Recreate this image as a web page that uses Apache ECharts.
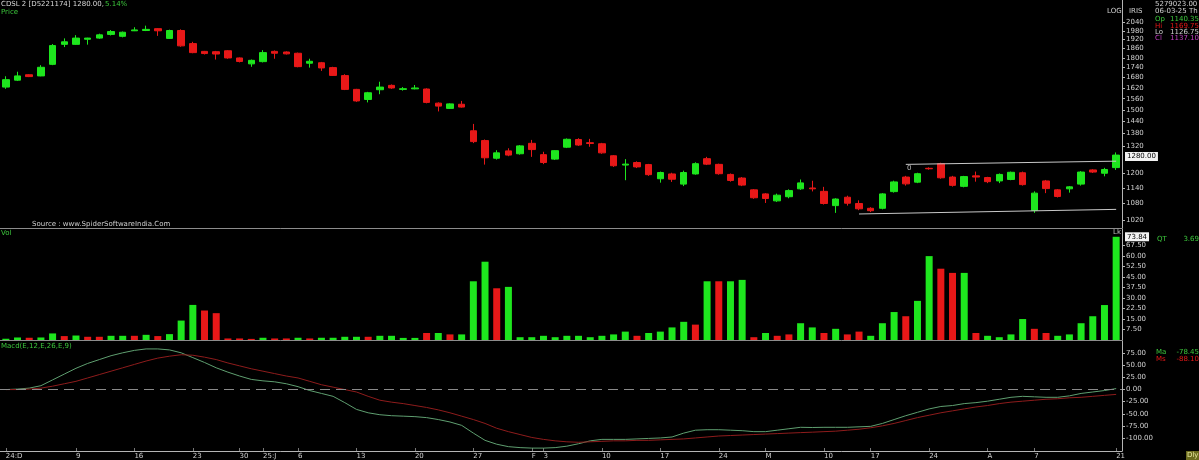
<!DOCTYPE html>
<html><head><meta charset="utf-8">
<script src="https://cdn.jsdelivr.net/npm/echarts@6/dist/echarts.min.js"></script>
<style>html,body{margin:0;padding:0;background:#000;}#c{width:1199px;height:460px;}</style>
</head><body><div id="c"></div>
<script>
// ---- data ----
const opens  = [1625,1665,1697,1690,1760,1888,1888,1922,1930,1955,1942,1980,1982,1995,1928,1982,1893,1842,1840,1846,1800,1763,1777,1842,1838,1830,1767,1770,1740,1692,1612,1556,1610,1635,
  1612,1615,1614,1536,1508,1530,1394,1347,1266,1299,1286,1334,1282,1262,1316,1352,1337,1332,1277,1236,1247,1238,1178,1198,1156,1198,1264,1239,1196,1181,1133,1117,1090,1106,
  1137,1140.35,1127,1072,1104,1080,1062,1062,1126,1185,1164,1222,1242,1185,1147,1190,1183,1169,1175,1203,1054,1169,1133,1137,1156,1215,1201,1225];
const highs  = [1688,1715,1700,1755,1890,1928,1950,1932,1960,1985,1975,2005,2016,1998,1988,1990,1905,1845,1845,1850,1803,1790,1850,1848,1842,1834,1795,1775,1745,1700,1615,1598,1656,1640,
  1625,1637,1618,1540,1535,1548,1428,1352,1302,1311,1326,1350,1295,1302,1357,1358,1355,1336,1280,1262,1252,1241,1208,1203,1212,1248,1272,1242,1200,1185,1136,1120,1118,1135,
  1175,1169.75,1145,1100,1110,1092,1066,1120,1170,1190,1203,1226,1246,1190,1190,1208,1186,1200,1208,1208,1127,1173,1136,1148,1210,1218,1224,1292];
const lows   = [1615,1660,1683,1688,1755,1870,1885,1886,1925,1948,1935,1978,1978,1945,1925,1872,1830,1822,1790,1795,1772,1745,1772,1795,1822,1742,1740,1720,1690,1608,1543,1540,1585,1615,
  1605,1612,1535,1492,1505,1512,1335,1238,1260,1275,1282,1272,1240,1258,1312,1322,1318,1286,1228,1172,1223,1190,1162,1165,1148,1195,1236,1195,1166,1148,1098,1082,1086,1100,
  1133,1126.75,1076,1045,1072,1055,1048,1058,1122,1150,1160,1216,1178,1146,1143,1166,1160,1160,1172,1150,1045,1120,1103,1122,1150,1202,1188,1215];
const closes = [1668,1690,1686,1742,1880,1905,1930,1930,1952,1975,1970,1986,1990,1980,1982,1878,1834,1828,1825,1800,1778,1785,1834,1830,1826,1746,1779,1738,1693,1612,1548,1593,1625,1620,
  1616,1620,1540,1520,1532,1515,1342,1268,1290,1280,1322,1305,1247,1300,1353,1326,1333,1290,1233,1240,1228,1195,1204,1176,1204,1242,1240,1199,1171,1152,1102,1099,1112,1130,
  1161,1137.10,1080,1097,1081,1060,1053,1117,1165,1157,1199,1220,1182,1151,1187,1185,1166,1196,1205,1154,1120,1138,1107,1145,1206,1206,1217,1280];
const volumes = [0.9,1.8,1.6,1.8,4.7,2.8,3.2,2.3,2.3,3.0,3.0,3.0,3.7,2.8,4.2,13.9,25.1,21.1,19.2,1.1,1.1,0.8,1.6,1.1,1.1,1.6,1.1,1.6,1.6,2.3,2.3,2.3,3.0,3.0,
  1.5,1.5,5,5,4,4,42,56,37,38,2,2,3,2,3,3,2,3,4,6,3,5,6,9,13,11,42,42,42,43,2,5,3,4,
  12,9,5,8,4,6,3,12,20,17,28,60,51,48,48,5,3,2,4,15,8,5,3,4,12,17,25,73.84];
const volUp = [1,1,0,1,1,0,1,0,0,1,1,0,1,0,1,1,1,0,0,0,0,0,1,0,0,1,0,1,1,1,1,0,1,1,
  1,1,0,1,0,1,1,1,0,1,1,1,1,1,1,1,1,1,1,1,0,1,1,1,1,0,1,0,1,1,0,1,0,0,
  1,1,0,1,0,0,1,1,1,0,1,1,0,0,1,0,1,1,1,1,0,0,1,1,1,1,1,1];
const macdLine = [0,1,3,8,20,32,44,54,62,70,76,81,84,84,82,76,66,56,45,36,28,21,18,16,12,6,-2,-8,-14,-27,-41,-48,-52,-54,
  -55,-56,-58,-62,-67,-74,-90,-105,-113,-118,-120,-121,-121,-120,-117,-112,-106,-103,-103,-103,-102,-101,-100,-98,-90,-84,-83,-83,-84,-85,-87,-87,-84,-81,
  -78,-78.45,-78,-78,-78,-77,-76,-70,-62,-54,-47,-40,-35,-33,-29,-27,-24,-20,-16,-14,-15,-16,-16,-13,-8,-5,-2,2];
const signalLine = [0,0,1,3,7,12,17,24,31,38,45,52,59,65,69,72,71,67,62,55,49,43,38,33,28,24,17,10,5,0,-5,-14,-22,-26,
  -29,-33,-37,-42,-48,-55,-62,-70,-80,-87,-93,-99,-103,-106,-108,-109,-108,-107,-106,-106,-105,-105,-104,-103,-102,-100,-98,-96,-95,-94,-93,-92,-91,-90,
  -89,-88.10,-87,-86,-84,-82,-79,-75,-70,-64,-58,-53,-48,-44,-40,-36,-33,-29,-26,-24,-22,-20,-19,-17,-16,-14,-12,-10];
const priceTicks = [1020,1080,1140,1200,1320,1380,1440,1500,1560,1620,1680,1740,1800,1860,1920,1980,2040];
const volTicks = [7.5,15,22.5,30,37.5,45,52.5,60,67.5];
const macdTicks = [75,50,25,0,-25,-50,-75,-100];
const xTickIdx  = [0,6,11,16,20,22,25,30,35,40,45,46,51,56,61,65,70,74,79,84,88,95];
const xTickText = ['24:D','9','16','23','30','25:J','6','13','20','27','F','3','10','17','24','M','10','17','24','A','7','21'];
const upperTrend = [[77,1239],[95,1253]];
const lowerTrend = [[73,1041],[95,1058]];
const lastPrice = 1280.00, lastVol = 73.84;

// ---- chart ----
const cats = opens.map((_, i) => String(i));
const L = Math.log;
const UP = '#1ee61e', DN = '#e81818', AX = '#b4b4b4', LBL = '#d0d0d0', GRN = '#3cc83c';
const FONT = 'DejaVu Sans';
const candle = opens.map((o, i) => [L(o), L(closes[i]), L(lows[i]), L(highs[i])]);
const vols = volumes.map((v, i) => ({value: v, itemStyle: {color: volUp[i] ? UP : DN}}));

function yAxisBase(grid, ticks, fmt, min, max) {
  return {
    gridIndex: grid, type: 'value', position: 'right', min: min, max: max, scale: true,
    axisLine: {show: true, onZero: false, lineStyle: {color: AX, width: 1}},
    axisTick: {show: true, customValues: ticks, length: 3, lineStyle: {color: AX}},
    axisLabel: {customValues: ticks, formatter: fmt, color: LBL, fontSize: 7, fontFamily: FONT, margin: 4},
    splitLine: {show: false}
  };
}
function xAxisBase(grid) {
  return {
    gridIndex: grid, type: 'category', data: cats, boundaryGap: true, position: 'bottom',
    axisLine: {show: true, onZero: false, lineStyle: {color: '#8c8c8c', width: 1}},
    axisTick: {show: false}, axisLabel: {show: false}, splitLine: {show: false}
  };
}
const xa2 = xAxisBase(2);
xa2.axisLine.lineStyle.color = AX;
xa2.axisTick = {show: true, inside: true, length: 3, alignWithLabel: true, lineStyle: {color: '#777'},
  interval: (idx) => xTickIdx.includes(idx)};
xa2.axisLabel = {show: true, interval: (idx) => xTickIdx.includes(idx), align: 'left',
  formatter: (v, idx) => xTickText[xTickIdx.indexOf(idx)], color: LBL, fontSize: 7, fontFamily: FONT, margin: 2};

function txt(x, y, s, fill, extra) {
  return Object.assign({type: 'text', x: x, y: y, silent: true, z: 100,
    style: {text: s, fill: fill, font: '7px "' + FONT + '"', textVerticalAlign: 'middle'}}, extra || {});
}
function txtR(x, y, s, fill) {
  const t = txt(x, y, s, fill); t.style.textAlign = 'right'; return t;
}
function boxLabel(text) {
  return {show: true, position: 'end', formatter: text, backgroundColor: '#f2f2f2',
    color: '#000', fontSize: 7, fontFamily: FONT, padding: [1, 2, 1, 2], distance: 3};
}
const HIDDEN = {color: 'rgba(0,0,0,0)', width: 0};

const trendLines = [upperTrend, lowerTrend].map(t => [
  {coord: [t[0][0], L(t[0][1])], lineStyle: {color: '#c8c8c8', width: 1, type: 'solid'}, label: {show: false}},
  {coord: [t[1][0], L(t[1][1])]}
]);

const option = {
  backgroundColor: '#000',
  animation: false,
  grid: [
    {left: 0, width: 1122, top: 0, height: 228},
    {left: 0, width: 1122, top: 229, height: 111},
    {left: 0, width: 1122, top: 341, height: 111}
  ],
  xAxis: [xAxisBase(0), xAxisBase(1), xa2],
  yAxis: [
    yAxisBase(0, priceTicks.map(L), v => Math.round(Math.exp(v)), L(991), L(2206)),
    yAxisBase(1, volTicks, v => v.toFixed(2), 0, 79.4),
    yAxisBase(2, macdTicks, v => v.toFixed(2), -127, 100.4)
  ],
  series: [
    {type: 'candlestick', xAxisIndex: 0, yAxisIndex: 0, data: candle, barWidth: 7,
      itemStyle: {color: UP, color0: DN, borderColor: UP, borderColor0: DN, borderWidth: 1},
      markLine: {silent: true, symbol: 'none', animation: false,
        data: [
          {yAxis: L(lastPrice), lineStyle: HIDDEN, label: boxLabel(lastPrice.toFixed(2))},
          ...trendLines
        ]}},
    {type: 'bar', xAxisIndex: 1, yAxisIndex: 1, data: vols, barWidth: 7,
      markLine: {silent: true, symbol: 'none', animation: false,
        data: [{yAxis: lastVol, lineStyle: HIDDEN, label: boxLabel(lastVol.toFixed(2))}]}},
    {type: 'line', xAxisIndex: 2, yAxisIndex: 2, data: macdLine, symbol: 'none',
      lineStyle: {color: '#5f9f70', width: 1},
      markLine: {silent: true, symbol: 'none', animation: false, label: {show: false},
        lineStyle: {color: '#8a8a8a', width: 1, type: 'dashed', dashOffset: 0},
        data: [{yAxis: 0, lineStyle: {color: '#8a8a8a', width: 1, type: [10, 6]}}]}},
    {type: 'line', xAxisIndex: 2, yAxisIndex: 2, data: signalLine, symbol: 'none',
      lineStyle: {color: '#8e1c1c', width: 1}}
  ],
  graphic: [
    txt(1, 4, 'CDSL 2 [D5221174] 1280.00,', '#d8d8d8'),
    txt(105, 4, '5.14%', GRN),
    txt(1, 12, 'Price', GRN),
    txt(32, 224, 'Source : www.SpiderSoftwareIndia.Com', '#cfcfcf'),
    txt(1, 233, 'Vol', GRN),
    txt(1, 346, 'Macd(E,12,E,26,E,9)', GRN),
    txt(1107, 11, 'LOG', LBL),
    txt(1129, 11, 'IRIS', LBL),
    txt(1155, 4, '5279023.00', LBL),
    txt(1155, 11, '06-03-25 Th', LBL),
    txt(1155, 19, 'Op', GRN), txtR(1199, 19, '1140.35', GRN),
    txt(1155, 26, 'Hi', DN), txtR(1199, 26, '1169.75', DN),
    txt(1155, 32, 'Lo', LBL), txtR(1199, 32, '1126.75', LBL),
    txt(1155, 38, 'Cl', '#c040c0'), txtR(1199, 38, '1137.10', '#c040c0'),
    txt(1157, 239, 'QT', GRN), txtR(1199, 239, '3.69', GRN),
    txt(1156, 352, 'Ma', GRN), txtR(1199, 352, '-78.45', GRN),
    txt(1156, 359, 'Ms', DN), txtR(1199, 359, '-88.10', DN),
    txt(1113, 232, 'Lk', '#bbbbbb'),
    txt(907, 168, '0', '#bbbbbb'),
    {type: 'rect', shape: {x: 1186, y: 451, width: 13, height: 9}, style: {fill: '#6b6b1e'}, silent: true, z: 99},
    txt(1187, 455, 'Dly', '#e8e8a0')
  ]
};
echarts.init(document.getElementById('c'), null, {renderer: 'canvas'}).setOption(option);
</script></body></html>
